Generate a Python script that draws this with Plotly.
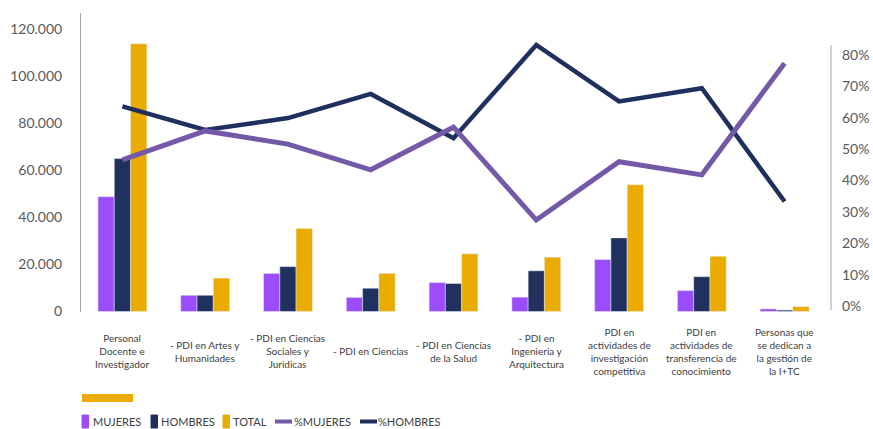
import plotly.graph_objects as go

# Staff categories (line breaks as shown under each group)
categories = [
    "Personal<br>Docente e<br>Investigador",
    "- PDI en Artes y<br>Humanidades",
    "- PDI en Ciencias<br>Sociales y<br>Juridicas",
    "- PDI en Ciencias",
    "- PDI en Ciencias<br>de la Salud",
    "- PDI en<br>Ingenieria y<br>Arquitectura",
    "PDI en<br>actividades de<br>investigación<br>competitiva",
    "PDI en<br>actividades de<br>transferencia de<br>conocimiento",
    "Personas que<br>se dedican a<br>la gestión de<br>la I+TC",
]

# Headcounts
mujeres = [48800, 6900, 16200, 6000, 12300, 6100, 22100, 8900, 1100]
hombres = [65000, 6900, 19100, 9900, 11900, 17300, 31300, 14800, 600]
total = [113800, 14200, 35300, 16200, 24500, 23100, 53900, 23500, 2100]

# Shares (secondary axis)
pct_mujeres = [0.466, 0.558, 0.516, 0.434, 0.570, 0.274, 0.460, 0.418, 0.774]
pct_hombres = [0.636, 0.561, 0.599, 0.676, 0.535, 0.832, 0.652, 0.694, 0.333]

left_ticks = [0, 20000, 40000, 60000, 80000, 100000, 120000]
right_ticks = [0, 0.1, 0.2, 0.3, 0.4, 0.5, 0.6, 0.7, 0.8]

C_MUJ = "#9b4dfb"
C_HOM = "#20315f"
C_TOT = "#eaac00"
C_PMUJ = "#7359a8"
C_PHOM = "#1f2f5e"
FONT = "Lato"

W, H = 873, 429
ML, MR, MT, MB = 81, 47, 13, 117
PW, PH = W - ML - MR, H - MT - MB


def px_x(px):
    return (px - ML) / PW


def px_y(py):
    return (H - MB - py) / PH


fig = go.Figure()
fig.add_trace(go.Bar(x=categories, y=mujeres, name="MUJERES", marker_color=C_MUJ))
fig.add_trace(go.Bar(x=categories, y=hombres, name="HOMBRES", marker_color=C_HOM))
fig.add_trace(go.Bar(x=categories, y=total, name="TOTAL", marker_color=C_TOT))
fig.add_trace(go.Scatter(x=categories, y=pct_hombres, name="%HOMBRES", yaxis="y2",
                         mode="lines", line=dict(color=C_PHOM, width=4.5)))
fig.add_trace(go.Scatter(x=categories, y=pct_mujeres, name="%MUJERES", yaxis="y2",
                         mode="lines", line=dict(color=C_PMUJ, width=5)))

annotations = []
# Category labels, centred vertically under each group
for cat in categories:
    annotations.append(dict(x=cat, xref="x", y=px_y(351), yref="paper",
                            text=cat, showarrow=False, yanchor="middle",
                            align="center", font=dict(family=FONT, size=10, color="#404040")))

shapes = [
    # right axis rule
    dict(type="line", xref="paper", yref="y2", x0=px_x(831), x1=px_x(831),
         y0=-0.013, y1=0.832, line=dict(color="#a6a6a6", width=1)),
    # gold band above the legend
    dict(type="rect", xref="paper", yref="paper", x0=px_x(82), x1=px_x(133),
         y0=px_y(402), y1=px_y(394), fillcolor=C_TOT, line=dict(width=0)),
]

# Legend keys
legend_items = [
    ("MUJERES", C_MUJ, "bar", 82, 91),
    ("HOMBRES", C_HOM, "bar", 151, 159),
    ("TOTAL", C_TOT, "bar", 223, 231),
    ("%MUJERES", C_PMUJ, "line", 275, 292),
    ("%HOMBRES", C_PHOM, "line", 360, 376),
]
ly = 421.5
for label, color, kind, kx, tx in legend_items:
    if kind == "bar":
        shapes.append(dict(type="rect", xref="paper", yref="paper",
                           x0=px_x(kx), x1=px_x(kx + 6.5), y0=px_y(428), y1=px_y(415),
                           fillcolor=color, line=dict(color=color, width=1)))
    else:
        shapes.append(dict(type="line", xref="paper", yref="paper",
                           x0=px_x(kx), x1=px_x(kx + 17), y0=px_y(ly), y1=px_y(ly),
                           line=dict(color=color, width=4)))
    annotations.append(dict(x=px_x(tx), xref="paper", y=px_y(ly), yref="paper",
                            text=label, showarrow=False, xanchor="left", yanchor="middle",
                            font=dict(family=FONT, size=11, color="#404040")))

fig.update_layout(
    width=W, height=H,
    margin=dict(l=ML, r=MR, t=MT, b=MB, autoexpand=False),
    paper_bgcolor="white", plot_bgcolor="white",
    separators=",.",
    barmode="group", bargap=0.41, bargroupgap=0,
    showlegend=False,
    font=dict(family=FONT, color="#595959"),
    xaxis=dict(showticklabels=False, showgrid=False, showline=False, zeroline=False,
               ticks="", automargin=False),
    yaxis=dict(range=[-210, 126900], tickvals=left_ticks, tickformat=",.0f",
               showgrid=False, zeroline=False, showline=True, linecolor="#a6a6a6",
               linewidth=1, ticks="", ticklabelstandoff=15, automargin=False,
               tickfont=dict(family=FONT, size=14, color="#595959")),
    yaxis2=dict(range=[-0.0191, 0.9339], tickvals=right_ticks, tickformat=".0%",
                overlaying="y", side="right", showgrid=False, zeroline=False,
                showline=False, ticks="", ticklabelstandoff=15, automargin=False,
                tickfont=dict(family=FONT, size=14, color="#595959")),
    shapes=shapes,
    annotations=annotations,
)

fig.write_html("out.html")
